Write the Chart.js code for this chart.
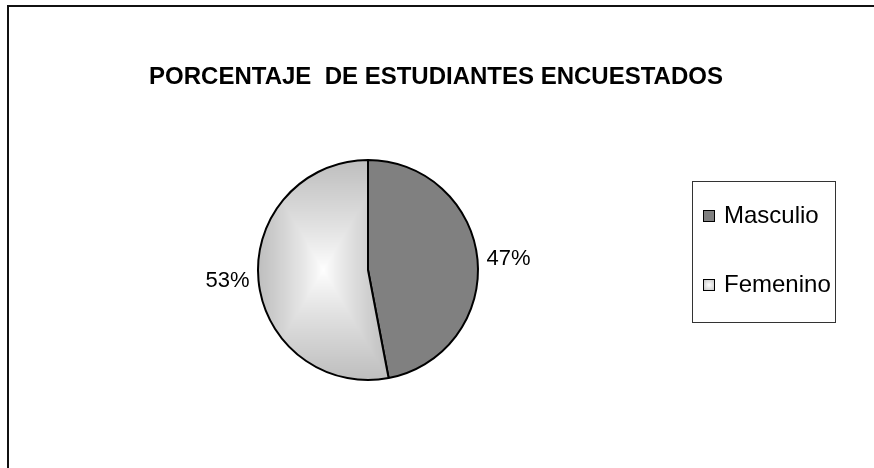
<!DOCTYPE html>
<html>
<head>
<meta charset="utf-8">
<script src="https://cdn.jsdelivr.net/npm/chart.js@4/dist/chart.umd.min.js"></script>
<style>
  html, body { margin: 0; padding: 0; background: #fff; }
</style>
</head>
<body>
<canvas id="chart" width="874" height="468"></canvas>
<script>
const chartTitle = 'PORCENTAJE  DE ESTUDIANTES ENCUESTADOS';
const categories = ['Masculio', 'Femenino'];
const values = [47, 53];
const sliceColors = ['#808080', 'gradient'];

const FONT = "'Liberation Sans', Arial, sans-serif";

// rectangular "from center" gradient over the slice bounding box, like the old Excel fill
function sliceGradient(chart, arc) {
  const off = document.createElement('canvas');
  off.width = chart.width;
  off.height = chart.height;
  const c = off.getContext('2d');
  let minX = arc.x, maxX = arc.x, minY = arc.y, maxY = arc.y;
  for (let i = 0; i <= 360; i++) {
    const a = arc.startAngle + (arc.endAngle - arc.startAngle) * i / 360;
    const px = arc.x + Math.cos(a) * arc.outerRadius;
    const py = arc.y + Math.sin(a) * arc.outerRadius;
    minX = Math.min(minX, px); maxX = Math.max(maxX, px);
    minY = Math.min(minY, py); maxY = Math.max(maxY, py);
  }
  const cx = (minX + maxX) / 2, cy = (minY + maxY) / 2;
  const hw = (maxX - minX) / 2, hh = (maxY - minY) / 2;
  const img = c.createImageData(off.width, off.height);
  for (let y = Math.floor(minY) - 2; y <= Math.ceil(maxY) + 2; y++) {
    for (let x = Math.floor(minX) - 2; x <= Math.ceil(maxX) + 2; x++) {
      if (x < 0 || y < 0 || x >= off.width || y >= off.height) continue;
      const t = Math.min(1, Math.max(Math.abs(x + 0.5 - cx) / hw, Math.abs(y + 0.5 - cy) / hh));
      const v = Math.round(255 - (255 - 190) * Math.pow(t, 0.85));
      const k = (y * off.width + x) * 4;
      img.data[k] = v; img.data[k + 1] = v; img.data[k + 2] = v; img.data[k + 3] = 255;
    }
  }
  c.putImageData(img, 0, 0);
  return chart.ctx.createPattern(off, 'no-repeat');
}

const decorPlugin = {
  id: 'decor',
  beforeDraw(chart) {
    const ctx = chart.ctx;
    ctx.save();
    ctx.fillStyle = '#fff';
    ctx.fillRect(0, 0, chart.width, chart.height);
    // frame (only top and left edges show inside the window)
    ctx.strokeStyle = '#111';
    ctx.lineWidth = 2;
    ctx.beginPath();
    ctx.moveTo(8, chart.height + 2);
    ctx.lineTo(8, 6);
    ctx.lineTo(chart.width + 2, 6);
    ctx.stroke();
    // title
    ctx.fillStyle = '#000';
    ctx.font = 'bold 24px ' + FONT;
    ctx.textAlign = 'center';
    ctx.textBaseline = 'middle';
    ctx.fillText(chartTitle, 436, 77);
    ctx.restore();
  },
  beforeDatasetsDraw(chart) {
    const meta = chart.getDatasetMeta(0);
    meta.data.forEach((arc, i) => {
      if (sliceColors[i] === 'gradient') {
        arc.options.backgroundColor = sliceGradient(chart, arc);
      }
    });
  },
  afterDatasetsDraw(chart) {
    const ctx = chart.ctx;
    const meta = chart.getDatasetMeta(0);
    const total = values.reduce((a, b) => a + b, 0);
    ctx.save();
    ctx.fillStyle = '#000';
    ctx.font = '22px ' + FONT;
    ctx.textBaseline = 'middle';
    meta.data.forEach((arc, i) => {
      const mid = (arc.startAngle + arc.endAngle) / 2;
      const d = arc.outerRadius + 9;
      const x = arc.x + Math.cos(mid) * d;
      const y = arc.y + Math.sin(mid) * d;
      ctx.textAlign = Math.cos(mid) >= 0 ? 'left' : 'right';
      ctx.fillText(Math.round(values[i] / total * 100) + '%', x, y);
    });

    // legend box
    ctx.strokeStyle = '#333';
    ctx.lineWidth = 1;
    ctx.strokeRect(692.5, 181.5, 143, 141);
    ctx.font = '24px ' + FONT;
    ctx.textAlign = 'left';
    const rowY = [216, 285];
    categories.forEach((name, i) => {
      const y = rowY[i];
      const sx = 703, sy = y - 6, s = 12;
      if (sliceColors[i] === 'gradient') {
        const g = ctx.createRadialGradient(sx + s / 2, sy + s / 2, 0, sx + s / 2, sy + s / 2, s * 0.7);
        g.addColorStop(0, '#ffffff');
        g.addColorStop(1, '#bcbcbc');
        ctx.fillStyle = g;
      } else {
        ctx.fillStyle = sliceColors[i];
      }
      ctx.fillRect(sx, sy, s, s);
      ctx.strokeStyle = '#000';
      ctx.strokeRect(sx + 0.5, sy + 0.5, s - 1, s - 1);
      ctx.fillStyle = '#000';
      ctx.fillText(name, 724, y);
    });
    ctx.restore();
  }
};

new Chart(document.getElementById('chart'), {
  type: 'pie',
  data: {
    labels: categories,
    datasets: [{
      data: values,
      backgroundColor: sliceColors.map(c => c === 'gradient' ? '#d8d8d8' : c),
      borderColor: '#000',
      borderWidth: 2,
      borderAlign: 'center'
    }]
  },
  options: {
    responsive: false,
    animation: false,
    layout: { padding: { left: 257, right: 395, top: 159, bottom: 87 } },
    plugins: {
      legend: { display: false },
      title: { display: false },
      tooltip: { enabled: false }
    },
    events: []
  },
  plugins: [decorPlugin]
});
</script>
</body>
</html>
